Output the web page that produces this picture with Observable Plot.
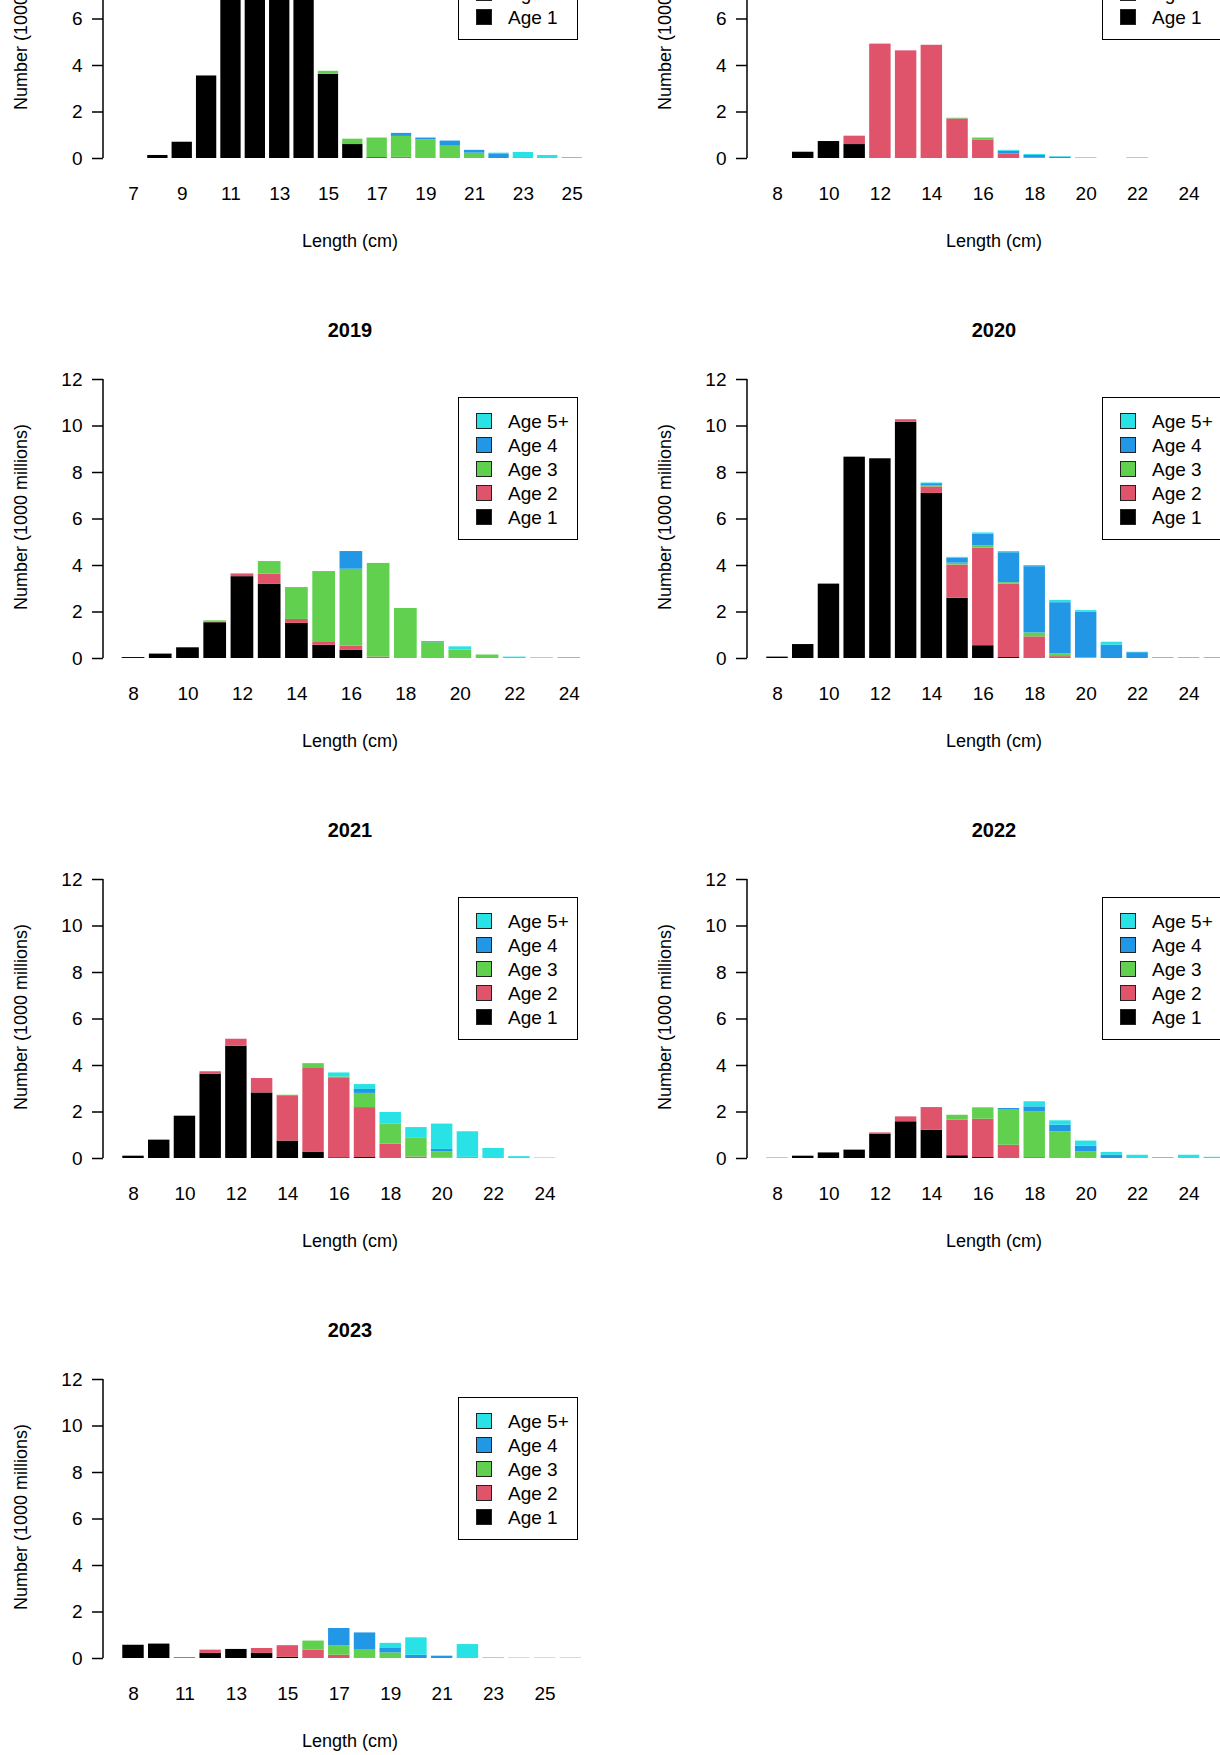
<!DOCTYPE html>
<html>
<head>
<meta charset="utf-8">
<script src="https://cdn.jsdelivr.net/npm/d3@7"></script>
<script src="https://cdn.jsdelivr.net/npm/@observablehq/plot@0.6"></script>
<style>
  body { margin: 0; width: 1220px; height: 1755px; overflow: hidden; position: relative; background: #fff;
         font-family: "Liberation Sans", Arial, sans-serif; }
  .panel { position: absolute; width: 620px; height: 460px; }
  .panel svg { position: absolute; left: 0; top: 30px; overflow: visible; }
  .title { position: absolute; top: 0; left: 0; width: 700px; text-align: center; font-weight: bold; font-size: 20px; }
  .xlab { position: absolute; top: 403px; left: 0; width: 700px; text-align: center; font-size: 18px; }
  .ylab { position: absolute; left: 21px; top: 189px; font-size: 18px; white-space: nowrap;
          transform: translate(-50%, -50%) rotate(-90deg); }
  .legend { position: absolute; left: 458px; top: 69px; width: 120px; height: 143px; border: 1.5px solid #000;
            box-sizing: border-box; font-size: 19px; }
  .legend div { position: absolute; left: 17px; height: 24px; line-height: 24px; white-space: nowrap; }
  .legend span { display: inline-block; width: 14px; height: 14px; border: 1.2px solid #222; margin-right: 16px;
                 vertical-align: -1px; }
</style>
</head>
<body>
<script>
const ages = ["Age 1", "Age 2", "Age 3", "Age 4", "Age 5+"];
const colors = ["#000000", "#DF536B", "#61D04F", "#2297E6", "#28E2E5"];

// Top row (titles cut off in the source picture)
const lenA = [7, 8, 9, 10, 11, 12, 13, 14, 15, 16, 17, 18, 19, 20, 21, 22, 23, 24, 25];
const a1A = [0, 0.13, 0.7, 3.55, 8.8, 10.2, 9.6, 7.9, 3.62, 0.6, 0.03, 0, 0, 0, 0, 0, 0, 0, 0];
const a2A = [0, 0, 0, 0, 0, 0, 0, 0, 0, 0, 0, 0.05, 0, 0, 0, 0, 0, 0, 0];
const a3A = [0, 0, 0, 0, 0, 0, 0, 0, 0.13, 0.23, 0.85, 0.9, 0.8, 0.53, 0.23, 0, 0, 0, 0];
const a4A = [0, 0, 0, 0, 0, 0, 0, 0, 0, 0, 0, 0.13, 0.08, 0.22, 0.12, 0.2, 0.03, 0, 0];
const a5A = [0, 0, 0, 0, 0, 0, 0, 0, 0, 0, 0, 0, 0, 0, 0, 0.03, 0.23, 0.13, 0.04];

const lenB = [8, 9, 10, 11, 12, 13, 14, 15, 16, 17, 18, 19, 20, 21, 22, 23, 24, 25];
const a1B = [0, 0.27, 0.73, 0.6, 0, 0, 0, 0, 0, 0, 0, 0, 0, 0, 0, 0, 0, 0];
const a2B = [0, 0, 0, 0.36, 4.92, 4.63, 4.87, 1.7, 0.8, 0.2, 0.03, 0, 0, 0, 0, 0, 0, 0];
const a3B = [0, 0, 0, 0, 0, 0, 0, 0.03, 0.08, 0, 0, 0, 0, 0, 0, 0, 0, 0];
const a4B = [0, 0, 0, 0, 0, 0, 0, 0, 0, 0.12, 0.1, 0.06, 0, 0, 0, 0, 0, 0];
const a5B = [0, 0, 0, 0, 0, 0, 0, 0, 0, 0.03, 0.04, 0.02, 0.03, 0, 0.03, 0, 0, 0];

// 2019
const len2019 = [8, 9, 10, 11, 12, 13, 14, 15, 16, 17, 18, 19, 20, 21, 22, 23, 24];
const a1_2019 = [0.04, 0.19, 0.46, 1.54, 3.52, 3.2, 1.51, 0.57, 0.36, 0, 0, 0, 0, 0, 0, 0, 0];
const a2_2019 = [0, 0, 0, 0.03, 0.11, 0.43, 0.17, 0.15, 0.17, 0.06, 0, 0, 0, 0, 0, 0, 0];
const a3_2019 = [0, 0, 0, 0.05, 0.02, 0.54, 1.37, 3.02, 3.31, 4.03, 2.15, 0.68, 0.36, 0.15, 0, 0, 0];
const a4_2019 = [0, 0, 0, 0, 0, 0, 0, 0, 0.76, 0, 0, 0.04, 0, 0, 0.03, 0, 0];
const a5_2019 = [0, 0, 0, 0, 0, 0, 0, 0, 0, 0, 0, 0, 0.14, 0, 0.03, 0.03, 0.04];

// 2020
const len2020 = [8, 9, 10, 11, 12, 13, 14, 15, 16, 17, 18, 19, 20, 21, 22, 23, 24, 25];
const a1_2020 = [0.06, 0.6, 3.2, 8.66, 8.59, 10.16, 7.1, 2.59, 0.55, 0.04, 0, 0, 0, 0, 0, 0, 0, 0];
const a2_2020 = [0, 0, 0, 0, 0, 0.11, 0.28, 1.43, 4.2, 3.16, 0.93, 0.08, 0, 0, 0, 0, 0, 0];
const a3_2020 = [0, 0, 0, 0, 0, 0, 0.04, 0.08, 0.1, 0.06, 0.17, 0.12, 0.03, 0, 0, 0, 0, 0];
const a4_2020 = [0, 0, 0, 0, 0, 0, 0.1, 0.22, 0.5, 1.29, 2.85, 2.2, 1.97, 0.57, 0.25, 0, 0, 0];
const a5_2020 = [0, 0, 0, 0, 0, 0, 0.03, 0.03, 0.05, 0.05, 0.05, 0.1, 0.06, 0.13, 0.02, 0.04, 0.04, 0.04];

// 2021
const len2021 = [8, 9, 10, 11, 12, 13, 14, 15, 16, 17, 18, 19, 20, 21, 22, 23, 24, 25];
const a1_2021 = [0.1, 0.79, 1.82, 3.63, 4.83, 2.82, 0.75, 0.26, 0.03, 0.04, 0, 0, 0, 0, 0, 0, 0, 0];
const a2_2021 = [0, 0, 0, 0.1, 0.3, 0.62, 1.95, 3.61, 3.41, 2.15, 0.62, 0.06, 0.02, 0, 0, 0, 0, 0];
const a3_2021 = [0, 0, 0, 0, 0, 0, 0.02, 0.19, 0.07, 0.61, 0.84, 0.8, 0.27, 0.05, 0, 0, 0, 0];
const a4_2021 = [0, 0, 0, 0, 0, 0, 0, 0.02, 0, 0.17, 0.02, 0.02, 0.1, 0, 0, 0, 0, 0];
const a5_2021 = [0, 0, 0, 0, 0, 0, 0, 0, 0.17, 0.21, 0.5, 0.45, 1.09, 1.1, 0.43, 0.08, 0.02, 0];

// 2022
const len2022 = [8, 9, 10, 11, 12, 13, 14, 15, 16, 17, 18, 19, 20, 21, 22, 23, 24, 25];
const a1_2022 = [0.01, 0.1, 0.24, 0.36, 1.05, 1.58, 1.22, 0.12, 0.04, 0, 0, 0, 0, 0, 0, 0, 0, 0];
const a2_2022 = [0, 0, 0, 0, 0.05, 0.21, 0.97, 1.53, 1.65, 0.57, 0.04, 0, 0, 0, 0, 0, 0, 0];
const a3_2022 = [0, 0, 0, 0, 0, 0, 0, 0.21, 0.49, 1.51, 1.96, 1.15, 0.29, 0, 0, 0, 0, 0];
const a4_2022 = [0, 0, 0, 0, 0, 0, 0, 0, 0, 0.07, 0.22, 0.28, 0.24, 0.14, 0, 0, 0, 0];
const a5_2022 = [0, 0, 0, 0, 0, 0, 0, 0, 0, 0, 0.22, 0.19, 0.22, 0.12, 0.14, 0.04, 0.14, 0.05];

// 2023
const len2023 = [8, 9, 11, 12, 13, 14, 15, 16, 17, 18, 19, 20, 21, 22, 23, 24, 25, 26];
const a1_2023 = [0.57, 0.62, 0.02, 0.22, 0.39, 0.22, 0.05, 0, 0, 0, 0, 0, 0, 0, 0, 0, 0, 0];
const a2_2023 = [0, 0, 0, 0.14, 0, 0.21, 0.5, 0.36, 0.14, 0.03, 0, 0, 0, 0, 0, 0, 0, 0];
const a3_2023 = [0, 0, 0, 0, 0, 0, 0, 0.39, 0.41, 0.33, 0.24, 0, 0, 0, 0, 0, 0, 0];
const a4_2023 = [0, 0, 0, 0, 0, 0, 0, 0, 0.74, 0.74, 0.19, 0.14, 0.1, 0, 0, 0, 0, 0];
const a5_2023 = [0, 0, 0, 0, 0, 0, 0, 0, 0, 0, 0.22, 0.75, 0, 0.6, 0.03, 0.02, 0.02, 0.02];

const panels = [
  {title: "", col: 0, row: 0, len: lenA, s: [a1A, a2A, a3A, a4A, a5A]},
  {title: "", col: 1, row: 0, len: lenB, s: [a1B, a2B, a3B, a4B, a5B]},
  {title: "2019", col: 0, row: 1, len: len2019, s: [a1_2019, a2_2019, a3_2019, a4_2019, a5_2019]},
  {title: "2020", col: 1, row: 1, len: len2020, s: [a1_2020, a2_2020, a3_2020, a4_2020, a5_2020]},
  {title: "2021", col: 0, row: 2, len: len2021, s: [a1_2021, a2_2021, a3_2021, a4_2021, a5_2021]},
  {title: "2022", col: 1, row: 2, len: len2022, s: [a1_2022, a2_2022, a3_2022, a4_2022, a5_2022]},
  {title: "2023", col: 0, row: 3, len: len2023, s: [a1_2023, a2_2023, a3_2023, a4_2023, a5_2023]}
];

const font = '"Liberation Sans", Arial, sans-serif';

panels.forEach(p => {
  // zero line of each row sits at 158 + 500*row
  const zero = 158 + 500 * p.row;
  const div = d3.select("body").append("div").attr("class", "panel")
    .style("left", (p.col * 644) + "px").style("top", (zero - 330) + "px");

  const rows = [];
  ages.forEach((a, k) => p.len.forEach((l, i) => rows.push({len: String(l), age: a, value: p.s[k][i]})));

  const n = p.len.length;
  const step = 463 / n;
  const names = p.len.map(String);
  const tickNames = names.filter((d, i) => i % 2 === 0);

  const chart = Plot.plot({
    width: 620,
    height: 410,
    marginLeft: 103,
    marginTop: 21,
    marginBottom: 110,
    marginRight: 0,
    style: {fontFamily: font, fontSize: "19px", background: "transparent", overflow: "visible"},
    x: {type: "band", domain: names, range: [133 - step / 2, 133 + step * (n - 0.5)], round: false,
        paddingInner: 0.1667, paddingOuter: 0.0833, axis: null},
    y: {domain: [0, 12], axis: null},
    color: {domain: ages, range: colors},
    marks: [
      Plot.barY(rows, {x: "len", y: "value", fill: "age", order: ages}),
      Plot.axisX({ticks: tickNames, tickSize: 0, tickPadding: 28, fontSize: 19, label: null}),
      Plot.axisY({ticks: [0, 2, 4, 6, 8, 10, 12], tickSize: 11, tickPadding: 10, fontSize: 19, label: null,
                  stroke: "#000", strokeWidth: 1.5})
    ]
  });
  div.append(() => chart);

  // R-style axis spine from 0 to 12
  const ys = chart.scale("y");
  d3.select(chart).append("line")
    .attr("x1", 103).attr("x2", 103)
    .attr("y1", ys.apply(0)).attr("y2", ys.apply(12))
    .attr("stroke", "#000").attr("stroke-width", 1.5);

  if (p.title) div.append("div").attr("class", "title").style("top", "-9px").text(p.title);
  div.append("div").attr("class", "xlab").text("Length (cm)");
  div.append("div").attr("class", "ylab").text("Number (1000 millions)");

  const leg = div.append("div").attr("class", "legend");
  ages.slice().reverse().forEach((a, i) => {
    const item = leg.append("div").style("top", (12 + i * 24) + "px");
    item.append("span").style("background", colors[ages.indexOf(a)]);
    item.append("text").text(a);
  });
});
</script>
</body>
</html>
